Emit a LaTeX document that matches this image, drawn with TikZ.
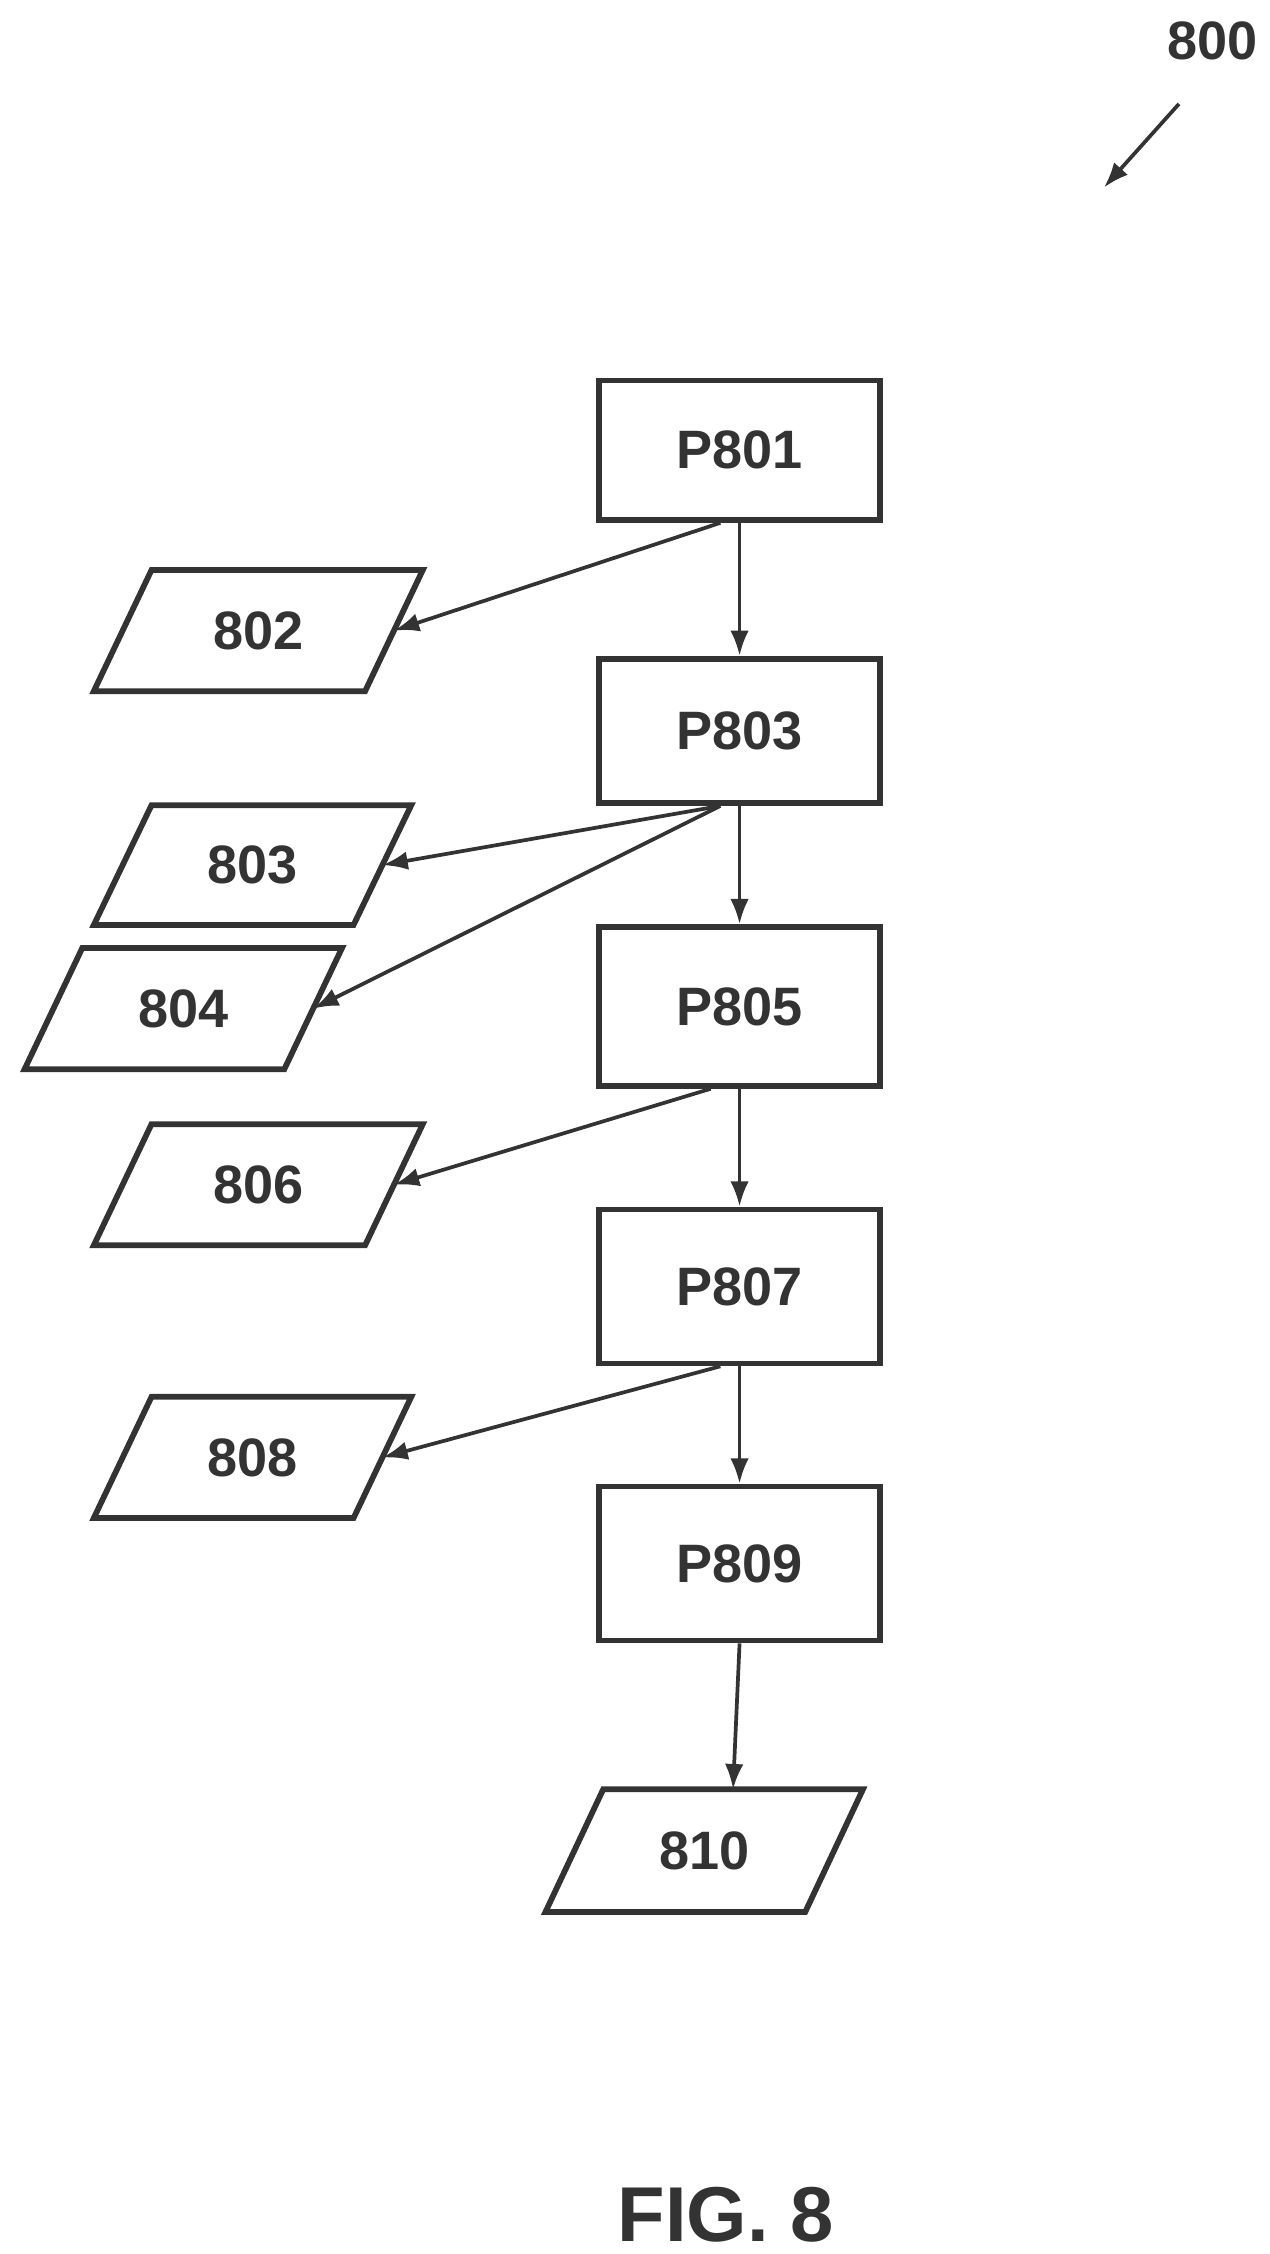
\documentclass[tikz,border=0pt]{standalone}
\usepackage{fontspec}
\setmainfont{Liberation Sans}
\usetikzlibrary{arrows.meta}
\definecolor{ink}{HTML}{333333}
\tikzset{
  procbox/.style={draw=ink, line width=3.4pt, minimum width=5.85cm, minimum height=2.9cm, inner sep=0pt},
  lbl/.style={text=ink, font=\fontsize{32}{38}\selectfont\bfseries},
  link/.style={-{Latex[length=15pt,width=11pt]}, draw=ink, line width=2.2pt}
}
% parallelogram: name, bottom-left x, top y, bottom y, top width, text
\newcommand{\datanode}[6]{%
  \draw[ink, line width=3.4pt, line join=miter] (#2,#4) -- (#2+40,#3) -- (#2+40+#5,#3) -- (#2+#5,#4) -- cycle;
  \node[lbl] (#1) at (#2+20+#5/2,#3/2+#4/2) {#6};
  \coordinate (#1-r) at (#2+20+#5,#3/2+#4/2);
  \coordinate (#1-t) at (#2+40+#5/2,#3);
}
\begin{document}
\begin{tikzpicture}[x=0.03cm, y=-0.03cm]
  \useasboundingbox (0,0) rectangle (880,1562);
  % process boxes
  \node[procbox, lbl, minimum height=2.9cm] (p801) at (512.5,312) {P801};
  \node[procbox, lbl, minimum height=3.0cm] (p803) at (512.5,506.5) {P803};
  \node[procbox, lbl, minimum height=3.3cm] (p805) at (512.5,697.5) {P805};
  \node[procbox, lbl, minimum height=3.2cm] (p807) at (512.5,891.5) {P807};
  \node[procbox, lbl, minimum height=3.2cm] (p809) at (512.5,1083.5) {P809};
  % data
  \datanode{d802}{65}{395}{479}{188}{802}
  \datanode{d803}{65}{558}{641}{180}{803}
  \datanode{d804}{17}{657}{741}{180}{804}
  \datanode{d806}{65}{779}{863}{188}{806}
  \datanode{d808}{65}{968}{1052}{180}{808}
  \datanode{d810}{378}{1240}{1325}{180}{810}
  % main flow
  \draw[link] (p801) -- (p803);
  \draw[link] (p803) -- (p805);
  \draw[link] (p805) -- (p807);
  \draw[link] (p807) -- (p809);
  \draw[link] (p809.south) -- (d810-t);
  % outputs
  \draw[link] ([xshift=-0.4cm]p801.south) -- (d802-r);
  \draw[link] ([xshift=-0.4cm]p803.south) -- (d803-r);
  \draw[link] ([xshift=-0.4cm]p803.south) -- (d804-r);
  \draw[link] ([xshift=-0.6cm]p805.south) -- (d806-r);
  \draw[link] ([xshift=-0.4cm]p807.south) -- (d808-r);
  % figure label
  \node[lbl] (ref) at (840,28) {800};
  \coordinate (refstart) at (817,72);
  \coordinate (refend) at (765,130);
  \draw[link] (refstart) -- (refend);
  \node[text=ink, font=\fontsize{46}{52}\selectfont\bfseries] (fig) at (503,1535) {FIG. 8};
\end{tikzpicture}
\end{document}
